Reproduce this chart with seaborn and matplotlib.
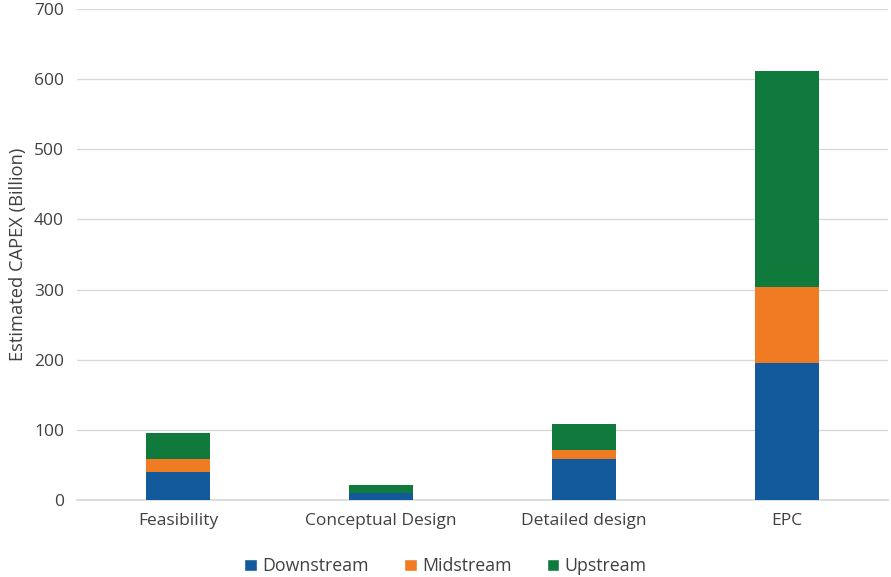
import numpy as np
import pandas as pd
import matplotlib.pyplot as plt
import seaborn as sns
from matplotlib.patches import Patch

# Data
stages = ["Feasibility", "Conceptual Design", "Detailed design", "EPC"]
downstream = [40, 10, 59, 195]
midstream = [18, 0.5, 13, 108]
upstream = [38, 11, 37, 308]

colors = {"Downstream": "#125a9c", "Midstream": "#f07b22", "Upstream": "#107a3d"}

df = pd.DataFrame({
    "Stage": stages,
    "Downstream": downstream,
    "Midstream": midstream,
    "Upstream": upstream,
})
# cumulative heights for stacking (tallest drawn first)
df["cum_down"] = df["Downstream"]
df["cum_mid"] = df["cum_down"] + df["Midstream"]
df["cum_up"] = df["cum_mid"] + df["Upstream"]

sns.set_theme(style="white")
plt.rcParams["font.family"] = ["Open Sans", "DejaVu Sans"]

fig = plt.figure(figsize=(8.91, 5.77), dpi=100)
ax = fig.add_axes([0.0859, 0.1334, 0.911, 0.851])

for col, name in [("cum_up", "Upstream"), ("cum_mid", "Midstream"), ("cum_down", "Downstream")]:
    sns.barplot(data=df, x="Stage", y=col, color=colors[name], width=0.315,
                saturation=1, linewidth=0, ax=ax, zorder=3)

ax.set_ylim(0, 700)
ax.set_xlim(-0.5, 3.5)
ax.set_yticks(np.arange(0, 701, 100))
ax.yaxis.grid(True, color="#d9d9d9", linewidth=1, zorder=0)
ax.set_axisbelow(True)
for s in ax.spines.values():
    s.set_visible(False)
ax.spines["bottom"].set_visible(True)
ax.spines["bottom"].set_color("#d9d9d9")
ax.tick_params(axis="both", length=0, labelsize=12.5, colors="#404040", pad=9)
ax.set_xlabel("")
ax.set_ylabel("Estimated CAPEX (Billion)", fontsize=13.2, color="#404040", labelpad=5)

handles = [Patch(facecolor=colors[n], label=n) for n in ["Downstream", "Midstream", "Upstream"]]
fig.legend(handles=handles, loc="lower center", bbox_to_anchor=(0.5, -0.025), ncol=3,
           frameon=False, fontsize=12.8, handlelength=0.7, handleheight=0.7,
           handletextpad=0.3, columnspacing=2.0, labelcolor="#404040")

fig.savefig("out.png", dpi=100)
